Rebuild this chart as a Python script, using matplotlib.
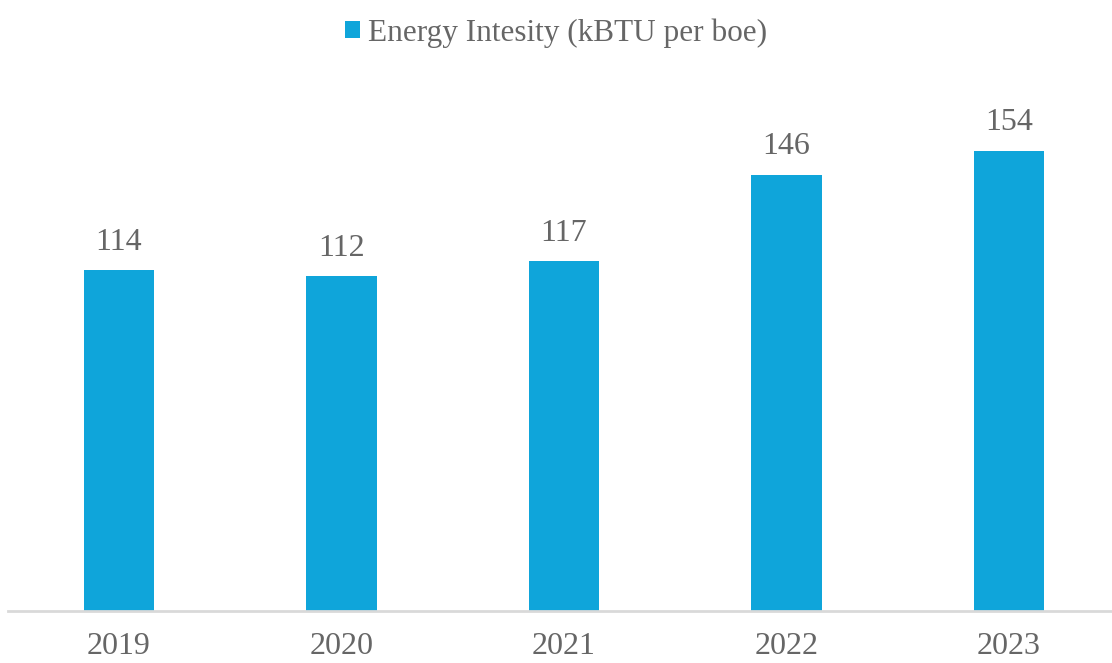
import matplotlib.pyplot as plt

years = ['2019', '2020', '2021', '2022', '2023']
intensity = [114, 112, 117, 146, 154]

plt.rcParams['font.family'] = ['Liberation Serif', 'DejaVu Serif']
bar_color = '#0FA5DA'
text_color = '#666666'

fig = plt.figure(figsize=(11.12, 6.63), dpi=100)
# axes slightly wider than the figure so the bar spacing matches
ax = fig.add_axes([7.75 / 1112, 1 - 611 / 663, 1112.5 / 1112, 538 / 663])

x = range(len(years))
bars = ax.bar(x, intensity, width=0.315, color=bar_color,
              label='Energy Intesity (kBTU per boe)', zorder=2)

for xi, v in zip(x, intensity):
    ax.text(xi, v + 4.5, str(v), ha='center', va='bottom',
            fontsize=23, color=text_color)

ax.set_xlim(-0.5, len(years) - 0.5)
ax.set_ylim(0, 180)
ax.set_xticks(list(x))
ax.set_xticklabels(years, fontsize=23, color=text_color)
ax.set_yticks([])
ax.tick_params(axis='x', length=0, pad=15)

for s in ['top', 'right', 'left']:
    ax.spines[s].set_visible(False)
ax.spines['bottom'].set_color('#D9D9D9')
ax.spines['bottom'].set_linewidth(2)

leg = fig.legend(loc='upper center', bbox_to_anchor=(0.5, 1.015), frameon=False,
                 fontsize=22.5, handlelength=0.5, handleheight=0.5,
                 handletextpad=0.25)
for t in leg.get_texts():
    t.set_color(text_color)

fig.savefig('out.png', dpi=100)
